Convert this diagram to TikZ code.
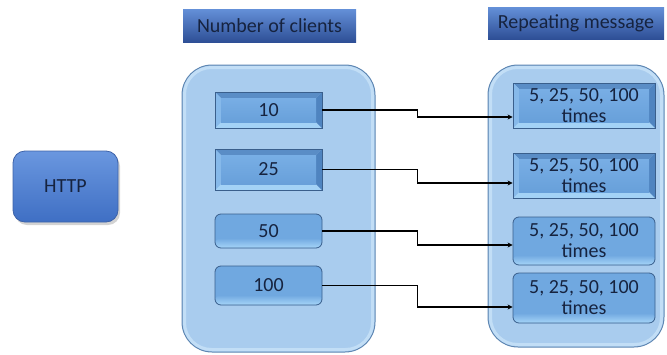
\documentclass[tikz,border=0pt]{standalone}
\usepackage{fontspec}
\setmainfont{Carlito}
\usetikzlibrary{arrows.meta,shadows,calc}

\definecolor{ink}{HTML}{16233F}
\definecolor{edge}{HTML}{3A5F8C}
\definecolor{panel}{HTML}{A9CCEE}
\definecolor{panelrim}{HTML}{5E86B2}
\definecolor{panelglow}{HTML}{C2DEF6}
\definecolor{bvtop}{HTML}{5A8DC6}
\definecolor{bvbot}{HTML}{A3D2F6}
\definecolor{bvleft}{HTML}{86B9EA}
\definecolor{bvright}{HTML}{4F84C0}
\definecolor{facetop}{HTML}{78AEE5}
\definecolor{facebot}{HTML}{68A0DA}
\definecolor{headtop}{HTML}{6490D8}
\definecolor{headbot}{HTML}{2E4F96}
\definecolor{rdtop}{HTML}{5A8FCB}
\definecolor{rdmid}{HTML}{70A8E0}
\definecolor{rdbot}{HTML}{A6D5F8}
\definecolor{httptop}{HTML}{6A97DF}
\definecolor{httpbot}{HTML}{3F6FC4}
\definecolor{httprim}{HTML}{3D62A8}

\tikzset{
  txt/.style={text=ink, font=\fontsize{20}{21}\selectfont, align=center, inner sep=0pt},
  panelbox/.style={rectangle, rounded corners=30pt, draw=panelrim, line width=1pt, fill=panel},
  headbox/.style={txt, rectangle, top color=headtop, bottom color=headbot},
  bevelsq/.style={txt, rectangle, draw=edge, line width=0.8pt,
    path picture={
      \path (path picture bounding box.north west) coordinate (pa)
            (path picture bounding box.north east) coordinate (pb)
            (path picture bounding box.south east) coordinate (pc)
            (path picture bounding box.south west) coordinate (pd);
      \fill[bvtop] (pa) -- (pb) -- ([shift={(-6,6)}]pb) -- ([shift={(6,6)}]pa) -- cycle;
      \fill[bvbot] (pd) -- (pc) -- ([shift={(-6,-6)}]pc) -- ([shift={(6,-6)}]pd) -- cycle;
      \fill[bvleft] (pa) -- ([shift={(6,6)}]pa) -- ([shift={(6,-6)}]pd) -- (pd) -- cycle;
      \fill[bvright] (pb) -- ([shift={(-6,6)}]pb) -- ([shift={(-6,-6)}]pc) -- (pc) -- cycle;
      \shade[top color=facetop, bottom color=facebot] ([shift={(6,6)}]pa) rectangle ([shift={(-6,-6)}]pc);
    }},
  bevelrd/.style={txt, rectangle, rounded corners=6pt, draw=edge, line width=0.8pt, fill=rdmid,
    path picture={
      \path (path picture bounding box.north west) coordinate (pa)
            (path picture bounding box.south east) coordinate (pc);
      \shade[top color=rdtop, bottom color=rdmid] (pa) rectangle ([yshift=10pt]pa -| pc);
      \shade[top color=rdmid, bottom color=rdbot] ([yshift=10pt]pc -| pa) rectangle (pc);
    }},
  httpbox/.style={txt, rectangle, rounded corners=12pt, draw=httprim, line width=0.8pt,
    top color=httptop, bottom color=httpbot,
    drop shadow={shadow xshift=2pt, shadow yshift=-3pt, opacity=0.35}},
  link/.style={line width=1.1pt, draw=black, -{Stealth[length=5pt,width=5pt]}}
}

\begin{document}
\begin{tikzpicture}[x=1pt, y=-1pt]
\useasboundingbox (0,0) rectangle (667,354);

% protocol
\node[httpbox, minimum width=105pt, minimum height=71pt] (http) at (65.5,186.5) {HTTP};

% column headers
\node[headbox, minimum width=173pt, minimum height=33pt] (hclients) at (269.5,25.5) {Number of clients};
\node[headbox, minimum width=176pt, minimum height=32pt] (hrepeat) at (576,23) {Repeating message};

% column panels with a soft inner rim
\node[panelbox, minimum width=193pt, minimum height=287pt] (pleft) at (278.5,208.5) {};
\draw[panelglow, line width=3pt, rounded corners=27pt]
  ([shift={(3,3)}]pleft.north west) rectangle ([shift={(-3,-3)}]pleft.south east);
\node[panelbox, minimum width=176pt, minimum height=282pt] (pright) at (576,206) {};
\draw[panelglow, line width=3pt, rounded corners=27pt]
  ([shift={(3,3)}]pright.north west) rectangle ([shift={(-3,-3)}]pright.south east);

% client counts
\node[bevelsq, minimum width=107pt, minimum height=36pt] (l1) at (268.5,110) {10};
\node[bevelsq, minimum width=107pt, minimum height=41pt] (l2) at (268.5,169.5) {25};
\node[bevelrd, minimum width=107pt, minimum height=34pt] (l3) at (268.5,231) {50};
\node[bevelrd, minimum width=107pt, minimum height=39pt] (l4) at (268.5,285.5) {100};

% repetitions
\node[bevelsq, minimum width=142pt, minimum height=45pt] (r1) at (584,105.5) {5, 25, 50, 100\\times};
\node[bevelsq, minimum width=142pt, minimum height=45pt] (r2) at (584,175.5) {5, 25, 50, 100\\times};
\node[bevelrd, minimum width=142pt, minimum height=48pt] (r3) at (584,241) {5, 25, 50, 100\\times};
\node[bevelrd, minimum width=142pt, minimum height=50pt] (r4) at (584,298) {5, 25, 50, 100\\times};

% connectors
\draw[link] (l1.east) -- ++(95,0) |- ([yshift=-11.5pt]r1.west);
\draw[link] (l2.east) -- ++(95,0) |- ([yshift=-7.5pt]r2.west);
\draw[link] (l3.east) -- ++(95,0) |- ([yshift=-4pt]r3.west);
\draw[link] (l4.east) -- ++(95,0) |- ([yshift=-9pt]r4.west);
\end{tikzpicture}
\end{document}
